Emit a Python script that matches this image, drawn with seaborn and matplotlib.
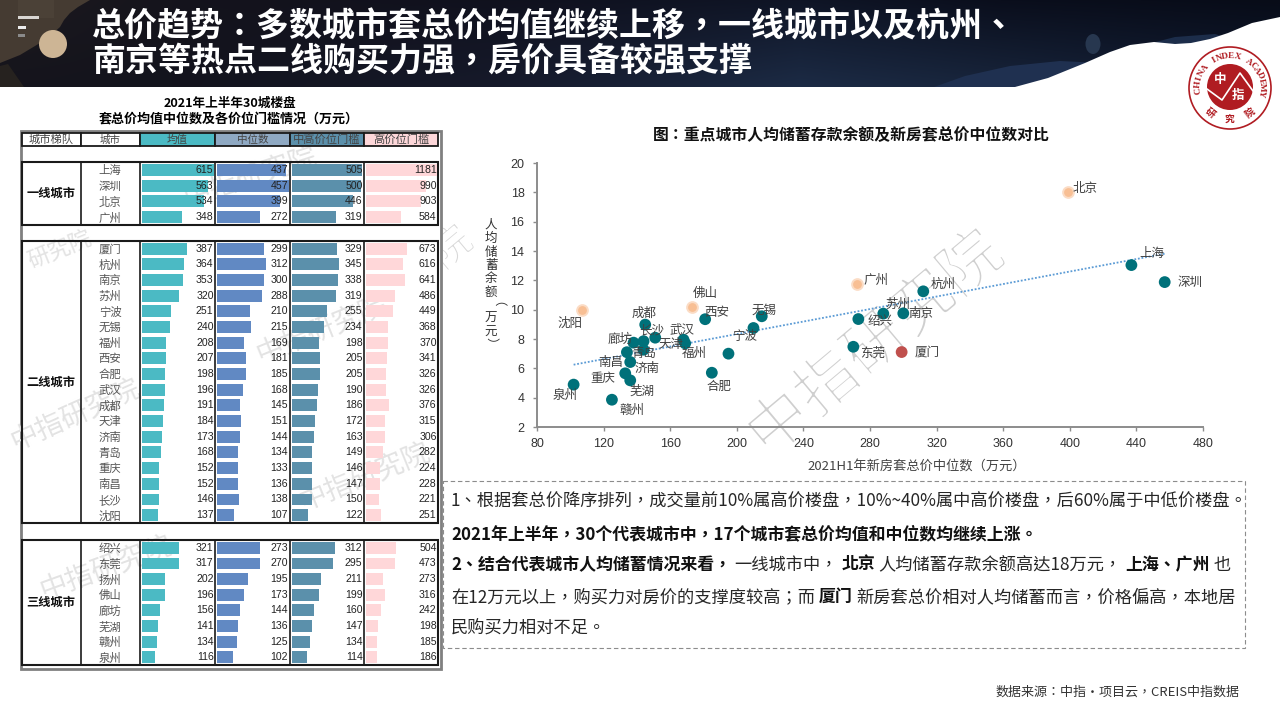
import matplotlib
matplotlib.use('Agg')
import numpy as np
import pandas as pd
import matplotlib.pyplot as plt
import matplotlib.patheffects as pe
import seaborn as sns
from matplotlib.patches import Rectangle, Circle, Polygon, Ellipse

sns.set_theme(style='white')
CJK = ['Noto Sans CJK TC', 'DejaVu Sans']
SC = ['Noto Sans CJK SC', 'DejaVu Sans']
plt.rcParams['font.family'] = CJK
plt.rcParams['axes.unicode_minus'] = False

# ---------- data ----------
tier_names = ['一线城市', '二线城市', '三线城市']
cities_t1 = ['上海', '深圳', '北京', '广州']
mean_t1 = [615, 563, 534, 348]
median_t1 = [437, 457, 399, 272]
midhigh_t1 = [505, 500, 446, 319]
high_t1 = [1181, 990, 903, 584]

cities_t2 = ['厦门', '杭州', '南京', '苏州', '宁波', '无锡', '福州', '西安', '合肥', '武汉', '成都', '天津', '济南', '青岛', '重庆', '南昌', '长沙', '沈阳']
mean_t2 = [387, 364, 353, 320, 251, 240, 208, 207, 198, 196, 191, 184, 173, 168, 152, 152, 146, 137]
median_t2 = [299, 312, 300, 288, 210, 215, 169, 181, 185, 168, 145, 151, 144, 134, 133, 136, 138, 107]
midhigh_t2 = [329, 345, 338, 319, 255, 234, 198, 205, 205, 190, 186, 172, 163, 149, 146, 147, 150, 122]
high_t2 = [673, 616, 641, 486, 449, 368, 370, 341, 326, 326, 376, 315, 306, 282, 224, 228, 221, 251]

cities_t3 = ['绍兴', '东莞', '扬州', '佛山', '廊坊', '芜湖', '赣州', '泉州']
mean_t3 = [321, 317, 202, 196, 156, 141, 134, 116]
median_t3 = [273, 270, 195, 173, 144, 136, 125, 102]
midhigh_t3 = [312, 295, 211, 199, 160, 147, 134, 114]
high_t3 = [504, 473, 273, 316, 242, 198, 185, 186]

col_headers = ['城市梯队', '城市', '均值', '中位数', '中高价位门槛', '高价位门槛']

sc_city = ['北京', '上海', '深圳', '广州', '厦门', '杭州', '南京', '苏州', '绍兴', '东莞', '宁波', '无锡', '扬州', '合肥', '西安', '佛山',
           '福州', '武汉', '天津', '成都', '廊坊', '长沙', '济南', '青岛', '南昌', '重庆', '芜湖', '赣州', '泉州', '沈阳']
sc_median = [399, 437, 457, 272, 299, 312, 300, 288, 273, 270, 210, 215, 195, 185, 181, 173,
             169, 168, 151, 145, 144, 138, 144, 134, 136, 133, 136, 125, 102, 107]
sc_saving = [18.02, 13.04, 11.88, 11.72, 7.11, 11.25, 9.75, 9.73, 9.36, 7.47, 8.75, 9.55, 7.0, 5.7, 9.35, 10.2,
             7.7, 7.95, 8.09, 8.98, 7.85, 7.75, 7.27, 7.1, 6.43, 5.66, 5.18, 3.86, 4.89, 10.0]
sc_group = ['o', 't', 't', 'o', 'r', 't', 't', 't', 't', 't', 't', 't', 't', 't', 't', 'o',
            't', 't', 't', 't', 't', 't', 't', 't', 't', 't', 't', 't', 't', 'o']
# label offsets from marker centre, px (right, up)
label_off = {'北京': (17, 4), '上海': (20, 12), '深圳': (25, 0), '广州': (19, 4), '厦门': (25, 0), '杭州': (20, 7), '南京': (17, 0),
             '苏州': (14, 9), '绍兴': (22, -2), '东莞': (19, -7), '宁波': (-9, -8), '无锡': (2, 6), '合肥': (7, -14), '西安': (12, 7),
             '佛山': (13, 13), '福州': (9, -10), '武汉': (-1, 9), '天津': (16, -7), '成都': (-1, 11), '廊坊': (-23, 2), '长沙': (18, 12),
             '济南': (3, -19), '青岛': (17, -1), '南昌': (-19, 0), '重庆': (-22, -5), '芜湖': (12, -11), '赣州': (20, -11),
             '泉州': (-9, -11), '沈阳': (-12, -14)}

W, H = 1280, 720
PX = 0.72  # points per pixel at dpi 100
fig = plt.figure(figsize=(12.8, 7.2), dpi=100, facecolor='white')


def axes_px(x0, y0, x1, y1, **kw):
    return fig.add_axes([x0 / W, 1 - y1 / H, (x1 - x0) / W, (y1 - y0) / H], **kw)


def hex_rgb(h):
    return np.array([int(h[i:i + 2], 16) / 255 for i in (1, 3, 5)])


bg = axes_px(0, 0, W, H, zorder=0)
bg.axis('off')

# ---------- banner ----------
stops = [0, 200, 500, 800, 1000, 1280]
bottom_cols = ['#15141c', '#13141e', '#161a2b', '#1c2b45', '#18253c', '#0f1a30']
top_cols = ['#1c1a1e', '#14131c', '#10111e', '#0f1526', '#0a0e1c', '#080c18']
xs = np.arange(W)
rows = np.linspace(0, 1, 87)[:, None, None]
b = np.stack([np.interp(xs, stops, [hex_rgb(c)[k] for c in bottom_cols]) for k in range(3)], axis=-1)[None, :, :]
tp = np.stack([np.interp(xs, stops, [hex_rgb(c)[k] for c in top_cols]) for k in range(3)], axis=-1)[None, :, :]
bg.imshow(tp * (1 - rows) + b * rows, extent=(0, W, 87, 0), aspect='auto', zorder=1)
bg.set_xlim(0, W)
bg.set_ylim(H, 0)
bg.add_patch(Polygon([(934, 87), (965, 76), (1010, 66), (1060, 61), (1100, 63), (1100, 87)], closed=True, fc='#1f3050', ec='none', zorder=1.2))
bg.add_patch(Polygon([(1140, 46), (1175, 37), (1215, 34), (1235, 40), (1200, 50)], closed=True, fc='#1c2d4a', ec='none', zorder=1.2))
bg.add_patch(Ellipse((1093, 44), 15, 20, fc='#27374f', ec='none', zorder=1.2))
bg.add_patch(Polygon([(1015, 87), (1048, 78), (1085, 63), (1110, 52), (1130, 45), (1154, 42), (1175, 44), (1191, 43), (1210, 39), (1228, 33),
                      (1252, 23), (1280, 17), (1280, 90), (1015, 90)], closed=True, fc='white', ec='none', zorder=2))
bg.add_patch(Polygon([(0, 0), (90, 0), (78, 7), (70, 13), (64, 20), (60, 27), (50, 36), (40, 43), (30, 49), (20, 55), (10, 59), (0, 63)],
                     closed=True, fc='#453b32', ec='none', zorder=2))
bg.add_patch(Rectangle((18, 0), 36, 18, fc='#52473c', ec='none', alpha=0.5, zorder=2))
bg.add_patch(Polygon([(0, 66), (8, 64), (24, 87), (0, 87)], closed=True, fc='#26221f', ec='none', zorder=2))
for (x0, x1, y0, col) in [(18, 39, 16, '#d9d6d2'), (18, 25.5, 26, '#ececec'), (18, 25, 34, '#8a8a8a')]:
    bg.add_patch(Rectangle((x0, y0), x1 - x0, 3, fc=col, ec='none', zorder=3))
bg.add_patch(Circle((53, 44), 14, fc='#cdb595', ec='none', zorder=3))
bg.text(92, 27, '总价趋势：多数城市套总价均值继续上移，一线城市以及杭州、', color='white', fontsize=23.75, weight='bold', va='center', ha='left', zorder=4)
bg.text(92, 61, '南京等热点二线购买力强，房价具备较强支撑', color='white', fontsize=23.75, weight='bold', va='center', ha='left', zorder=4)

# ---------- logo ----------
RED = '#b01c22'
cx, cy = 1230, 88
bg.add_patch(Circle((cx, cy), 41, fc='white', ec=RED, lw=1.2, zorder=5))
bg.add_patch(Circle((cx, cy - 1), 23, fc=RED, ec='none', zorder=5))
bg.plot([cx - 23, cx - 8, cx + 10, cx + 23], [cy + 1, cy + 12, cy - 15, cy + 3], color='white', lw=1.2, zorder=6)
bg.text(cx - 10, cy - 8, '中', color='white', fontsize=9, ha='center', va='center', weight='bold', zorder=6)
bg.text(cx + 8, cy + 7, '指', color='white', fontsize=9, ha='center', va='center', weight='bold', zorder=6)
arc = 'CHINA INDEX ACADEMY'
for i, ch in enumerate(arc):
    ang = np.deg2rad(-185 + i * 195 / (len(arc) - 1))
    bg.text(cx + 32 * np.cos(ang), cy + 32 * np.sin(ang), ch, color=RED, fontsize=6.6, weight='bold', family='Liberation Serif',
            rotation=-np.rad2deg(ang) - 90, ha='center', va='center', zorder=6)
for ch, a in zip('研究院', [128, 90, 52]):
    ang = np.deg2rad(a)
    bg.text(cx + 32 * np.cos(ang), cy + 32 * np.sin(ang), ch, color=RED, fontsize=7, weight='bold', rotation=90 - a, ha='center', va='center', zorder=6)

# ---------- left table ----------
bg.text(230, 103, '2021年上半年30城楼盘', fontsize=9.1, weight='bold', color='black', ha='center', va='center', zorder=2)
bg.text(229, 119, '套总价均值中位数及各价位门槛情况（万元）', fontsize=9.4, weight='bold', color='black', ha='center', va='center', zorder=2)
bg.add_patch(Rectangle((20.5, 130.5), 420, 538, fc='white', ec='#808080', lw=2, zorder=2))

col_x = [21.5, 80.5, 139.5, 215, 289.5, 364, 438]
hdr_fill = ['white', 'white', '#4bbac4', '#8fa9c3', '#5b90ab', '#fdd7d9']
for i, (name, fc) in enumerate(zip(col_headers, hdr_fill)):
    bg.add_patch(Rectangle((col_x[i], 132.5), col_x[i + 1] - col_x[i], 13.5, fc=fc, ec='#1a1a1a', lw=1.3, zorder=3))
    bg.text((col_x[i] + col_x[i + 1]) / 2, 139.5, name, fontsize=8.1 if len(name) > 3 else 7.6, color='#444444', ha='center', va='center', zorder=3.5)

bar_cols = ['#4bbac4', '#6189c3', '#5b90ab', '#ffd7d9']
px_per = [0.1175, 0.1575, 0.139, 0.0605]
tiers = [
    (162, 225, cities_t1, mean_t1, median_t1, midhigh_t1, high_t1),
    (240.7, 523, cities_t2, mean_t2, median_t2, midhigh_t2, high_t2),
    (540, 665, cities_t3, mean_t3, median_t3, midhigh_t3, high_t3),
]
for t, (y0, y1, cities, m, md, mh, hi) in enumerate(tiers):
    bg.add_patch(Rectangle((col_x[0], y0), col_x[6] - col_x[0], y1 - y0, fc='none', ec='#1a1a1a', lw=1.5, zorder=3))
    for xv in col_x[1:-1]:
        bg.plot([xv, xv], [y0, y1], color='#1a1a1a', lw=1.2, zorder=3)
    bg.text((col_x[0] + col_x[1]) / 2, (y0 + y1) / 2, tier_names[t], fontsize=8.8, weight='bold', color='#111111', ha='center', va='center', zorder=4)
    n = len(cities)
    for c, vals in enumerate([m, md, mh, hi]):
        x0, x1 = col_x[c + 2], col_x[c + 3]
        ax = axes_px(x0, y0, x1, y1, zorder=2)
        ax.patch.set_alpha(0)
        df = pd.DataFrame({'city': cities, 'value': vals})
        sns.barplot(data=df, x='value', y='city', orient='h', color=bar_cols[c], saturation=1, width=0.76, ax=ax, edgecolor='none')
        ax.set_xlim(-2 / px_per[c], (x1 - x0 - 2) / px_per[c])
        ax.set_ylim(n - 0.5, -0.5)
        ax.axis('off')
        for i, v in enumerate(vals):
            ax.annotate(str(v), xy=(1, i), xycoords=('axes fraction', 'data'), xytext=(-1.0, 0), textcoords='offset points',
                        ha='right', va='center', fontsize=7.6, color='#222222', family='Liberation Sans', zorder=5)
    step = (y1 - y0) / n
    for i, name in enumerate(cities):
        bg.text((col_x[1] + col_x[2]) / 2, y0 + step * (i + 0.55), name, fontsize=8.2, color='#555555', ha='center', va='center', zorder=4)

# ---------- watermarks ----------
for (x, y, s, fs, rot) in [(75, 415, '中指研究院', 20, 24), (106, 568, '中指研究院', 20, 20), (365, 477, '中指研究院', 20, 22),
                           (322, 330, '中指研究院', 20, 22), (250, 177, '中指研究院', 20, 18), (60, 250, '研究院', 16, 22)]:
    bg.text(x, y, s, fontsize=fs, color='#e3e3e3', rotation=rot, ha='center', va='center', zorder=2.5)
thin = [pe.Stroke(linewidth=2.2, foreground='white')]
bg.text(876, 345, '中指研究院', fontsize=45, color='#cfcfcf', rotation=40, ha='center', va='center', zorder=1.5, path_effects=thin)
bg.text(436, 262, '究院', fontsize=30, color='#d8d8d8', rotation=40, ha='center', va='center', zorder=1.5, path_effects=[pe.Stroke(linewidth=1.4, foreground='white')])

# ---------- scatter ----------
bg.text(851, 135, '图：重点城市人均储蓄存款余额及新房套总价中位数对比', fontsize=11.4, weight='bold', color='#111111', ha='center', va='center', zorder=2)
ax = axes_px(537, 163, 1203, 427, zorder=3)
ax.patch.set_alpha(0)
sdf = pd.DataFrame({'city': sc_city, 'median': sc_median, 'saving': sc_saving, 'group': sc_group})
sns.regplot(data=sdf, x='median', y='saving', scatter=False, ci=None, truncate=True, ax=ax,
            line_kws={'color': '#5b9bd5', 'lw': 1.3, 'ls': (0, (1, 1))})
sub = sdf[sdf.group == 'o']
sns.scatterplot(data=sub, x='median', y='saving', color='#f8bf94', s=60, edgecolor='#fbdcc5', linewidth=1.4, ax=ax, zorder=4)
sns.scatterplot(data=sdf[sdf.group != 'o'], x='median', y='saving', hue='group', palette={'t': '#00717a', 'r': '#c0504d'},
                s=72, edgecolor='none', legend=False, ax=ax, zorder=4)
for c, xv, yv in zip(sc_city, sc_median, sc_saving):
    if c in label_off:
        dx, dy = label_off[c]
        ax.annotate(c, (xv, yv), xytext=(dx * PX, dy * PX), textcoords='offset points', ha='center', va='center',
                    fontsize=9, color='#404040', zorder=5, family=SC)
ax.set_xlim(80, 480)
ax.set_ylim(2, 20)
ax.set_xticks(range(80, 481, 40))
ax.set_yticks(range(2, 21, 2))
ax.set_xlabel('')
ax.set_ylabel('')
ax.tick_params(axis='y', length=3, width=1, color='#8c8c8c', labelsize=9, labelcolor='#333333', pad=6, left=True)
ax.tick_params(axis='x', length=3, width=1, color='#8c8c8c', labelsize=9, labelcolor='#333333', pad=5, bottom=True)
for lab in ax.get_xticklabels() + ax.get_yticklabels():
    lab.set_family('Liberation Sans')
for s in ['top', 'right']:
    ax.spines[s].set_visible(False)
for s in ['left', 'bottom']:
    ax.spines[s].set_color('#8c8c8c')
    ax.spines[s].set_linewidth(1.4)
bg.text(917, 466, '2021H1年新房套总价中位数（万元）', fontsize=9.5, color='#444444', ha='center', va='center', zorder=2, family=SC)
ylabel_chars = '人均储蓄余额（万元）'
ylabel_y = [225, 238, 252, 265, 278, 292, 307, 318, 332, 343]
for ch, yy in zip(ylabel_chars, ylabel_y):
    bg.text(491, yy, ch, fontsize=9, color='#333333', ha='center', va='center', zorder=2, rotation=270 if ch in '（）' else 0, family=SC)

# ---------- text box ----------
top = axes_px(0, 0, W, H, zorder=6)
top.set_xlim(0, W)
top.set_ylim(H, 0)
top.axis('off')
top.add_patch(Rectangle((442.5, 480.5), 802.5, 167, fc='white', ec='#8c8c8c', lw=0.8, ls=(0, (4, 2.5)), zorder=1))
lines = [
    (502, 0, [('1、根据套总价降序排列，成交量前10%属高价楼盘，10%~40%属中高价楼盘，后60%属于中低价楼盘。', 'normal')]),
    (534, 0, [('2021年上半年，30个代表城市中，17个城市套总价均值和中位数均继续上涨。', 'bold')]),
    (565, 3.5, [('2、结合代表城市人均储蓄情况来看，', 'bold'), ('一线城市中，', 'normal'), ('北京', 'bold'),
                ('人均储蓄存款余额高达18万元，', 'normal'), ('上海、广州', 'bold'), ('也', 'normal')]),
    (597, 4, [('在12万元以上，购买力对房价的支撑度较高；而', 'normal'), ('厦门', 'bold'), ('新房套总价相对人均储蓄而言，价格偏高，本地居', 'normal')]),
    (628, 0, [('民购买力相对不足。', 'normal')]),
]
fig.canvas.draw()
rend = fig.canvas.get_renderer()
for y, gap, segs in lines:
    x = 451
    for s, w in segs:
        t = top.text(x, y, s, fontsize=12.2 if w == 'bold' else 12.4, weight=w, color='#111111' if w == 'bold' else '#262626', ha='left', va='center', zorder=2)
        x = t.get_window_extent(rend).x1 + gap

top.text(1240, 692, '数据来源：中指•项目云，CREIS中指数据', fontsize=9.4, color='#333333', ha='right', va='center')

fig.savefig('out.png', dpi=100)
